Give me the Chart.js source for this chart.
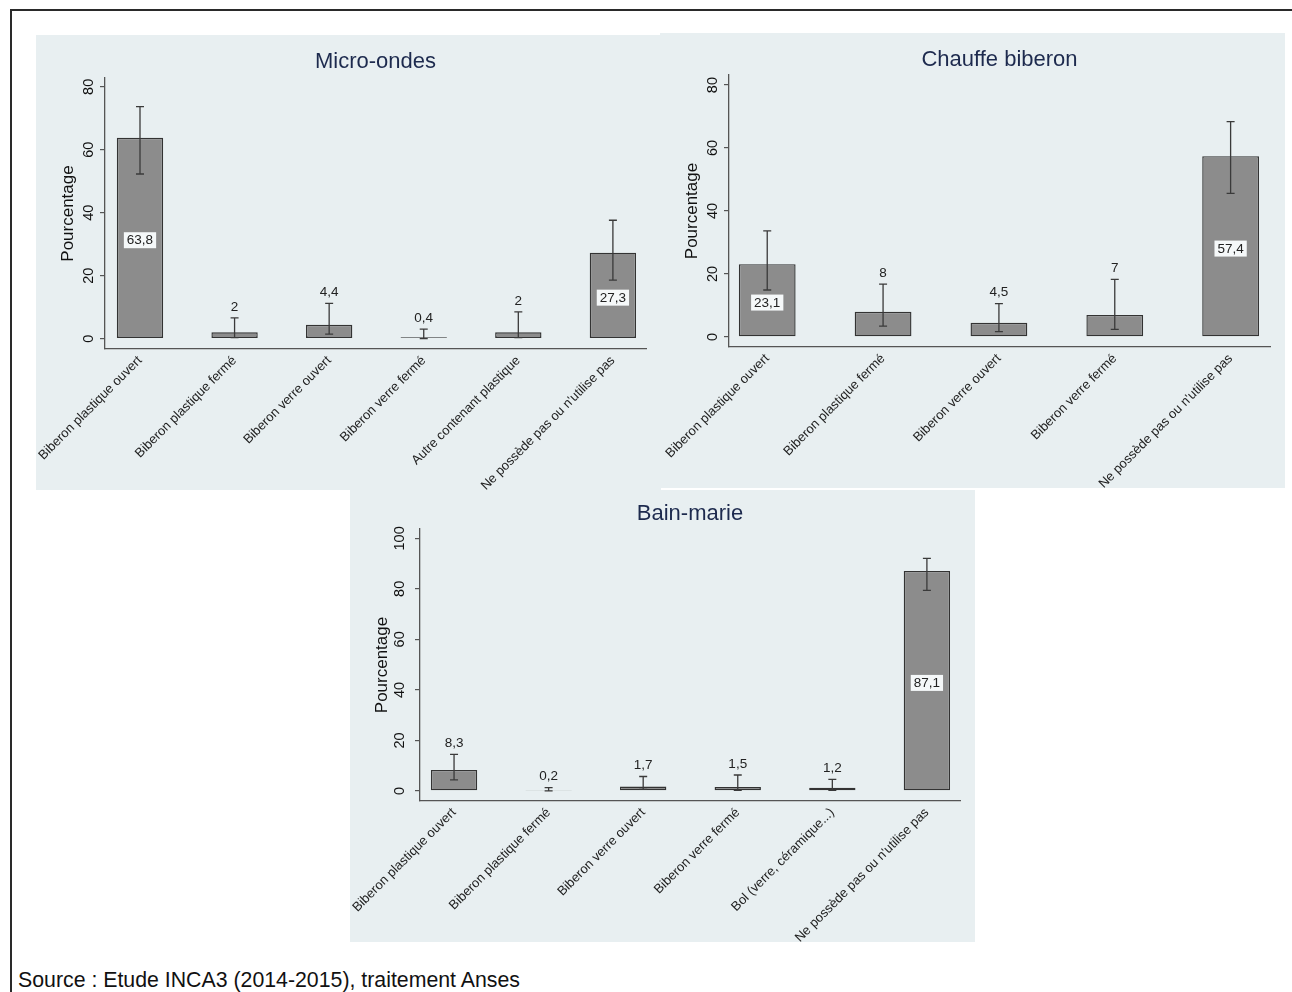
<!DOCTYPE html>
<html><head><meta charset="utf-8">
<script src="https://cdn.jsdelivr.net/npm/chart.js@4"></script>
<style>
body{margin:0;background:#fff;width:1292px;height:992px;overflow:hidden;position:relative;font-family:'Liberation Sans',Arial,sans-serif}
.frame{position:absolute;left:10px;top:9px;width:1400px;height:1100px;border-left:2px solid #2a2a2a;border-top:2px solid #2a2a2a}
.panel{position:absolute;background:#e8eff1}
.panel canvas{display:block}
#p1{left:36px;top:35px;width:625px;height:455px}
#p2{left:660px;top:33px;width:625px;height:455px}
#p3{left:350px;top:490px;width:625px;height:452px}
.source{position:absolute;left:18px;top:968px;font-size:21.3px;color:#111;white-space:nowrap}
</style></head>
<body>
<div class="frame"></div>
<div class="panel" id="p1"><canvas id="c1"></canvas></div>
<div class="panel" id="p2"><canvas id="c2"></canvas></div>
<div class="panel" id="p3"><canvas id="c3"></canvas></div>
<div class="source">Source : Etude INCA3 (2014-2015), traitement Anses</div>
<script>
// ---- Data ----
const microLabels = ["Biberon plastique ouvert","Biberon plastique fermé","Biberon verre ouvert","Biberon verre fermé","Autre contenant plastique","Ne possède pas ou n'utilise pas"];
const microValues = [63.8, 2, 4.4, 0.4, 2, 27.3];
const microLow    = [52.3, 0.3, 1.4, 0.0, 0.3, 18.6];
const microHigh   = [73.7, 6.6, 11.2, 3.0, 8.5, 37.6];

const chauffeLabels = ["Biberon plastique ouvert","Biberon plastique fermé","Biberon verre ouvert","Biberon verre fermé","Ne possède pas ou n'utilise pas"];
const chauffeValues = [23.1, 8, 4.5, 7, 57.4];
const chauffeLow    = [14.9, 3.4, 1.7, 2.4, 45.6];
const chauffeHigh   = [33.7, 16.8, 10.6, 18.3, 68.4];

const bainLabels = ["Biberon plastique ouvert","Biberon plastique fermé","Biberon verre ouvert","Biberon verre fermé","Bol (verre, céramique...)","Ne possède pas ou n'utilise pas"];
const bainValues = [8.3, 0.2, 1.7, 1.5, 1.2, 87.1];
const bainLow    = [4.4, 0.0, 0.6, 0.2, 0.2, 79.4];
const bainHigh   = [14.5, 1.3, 5.7, 6.3, 4.6, 92.1];

const yTicks80  = [0, 20, 40, 60, 80];
const yTicks100 = [0, 20, 40, 60, 80, 100];
const yTitle = "Pourcentage";

Chart.defaults.font.family = "'Liberation Sans', Arial, sans-serif";

const fmt = v => String(v).replace('.', ',');

const errPlugin = {
  id: 'errbars',
  afterDatasetsDraw(chart) {
    const ds = chart.data.datasets[0];
    const xs = chart.scales.x, ys = chart.scales.y, ctx = chart.ctx;
    ctx.save();
    ctx.strokeStyle = '#3a3a3a';
    ctx.lineWidth = 1.3;
    ds.errLow.forEach((lo, i) => {
      const x = xs.getPixelForValue(i);
      const y1 = ys.getPixelForValue(lo), y2 = ys.getPixelForValue(ds.errHigh[i]);
      ctx.beginPath();
      ctx.moveTo(x, y1); ctx.lineTo(x, y2);
      ctx.moveTo(x - 4, y1); ctx.lineTo(x + 4, y1);
      ctx.moveTo(x - 4, y2); ctx.lineTo(x + 4, y2);
      ctx.stroke();
    });
    ctx.restore();
  }
};

const labelPlugin = {
  id: 'vlabels',
  afterDatasetsDraw(chart) {
    const ds = chart.data.datasets[0];
    const xs = chart.scales.x, ys = chart.scales.y, ctx = chart.ctx;
    ctx.save();
    ctx.font = "13.5px 'Liberation Sans', Arial, sans-serif";
    ctx.textAlign = 'center';
    ctx.textBaseline = 'middle';
    ds.data.forEach((p, i) => {
      const txt = fmt(p.y);
      const x = xs.getPixelForValue(i);
      if (p.y > 20) {
        const y = ys.getPixelForValue(p.y / 2) + 2;
        const w = ctx.measureText(txt).width + 6;
        ctx.fillStyle = '#f5f8f9';
        ctx.fillRect(x - w / 2, y - 8, w, 16);
        ctx.fillStyle = '#222';
        ctx.fillText(txt, x, y + 0.5);
      } else {
        const y = ys.getPixelForValue(ds.errHigh[i]) - 11;
        ctx.fillStyle = '#222';
        ctx.fillText(txt, x, y);
      }
    });
    ctx.restore();
  }
};

function makeChart(id, cfg) {
  const n = cfg.labels.length;
  return new Chart(document.getElementById(id), {
    type: 'bar',
    data: {
      datasets: [{
        data: cfg.values.map((v, i) => ({x: i, y: v})),
        backgroundColor: '#8c8c8c',
        borderColor: '#333',
        borderWidth: 1.4,
        borderSkipped: false,
        barPercentage: 0.49,
        categoryPercentage: 1,
        errLow: cfg.low,
        errHigh: cfg.high
      }]
    },
    options: {
      responsive: true, maintainAspectRatio: false, animation: false,
      layout: {padding: {left: 0, right: 15, top: 0, bottom: 0}},
      plugins: {
        legend: {display: false},
        tooltip: {enabled: false},
        title: {display: true, fullSize: false, text: cfg.title, color: '#1d2a4e',
          font: {size: 22, weight: 'normal'}, padding: {top: cfg.tTop, bottom: cfg.tBot}}
      },
      scales: {
        x: {
          type: 'linear', offset: false, min: cfg.xMin, max: n - 1 + cfg.xMaxPad,
          grid: {display: false, offset: false},
          border: {display: true, color: '#555', width: 1.3},
          afterBuildTicks: s => { s.ticks = cfg.labels.map((_, i) => ({value: i})); },
          ticks: {autoSkip: false, minRotation: 45, maxRotation: 45, color: '#222',
            font: {size: 13}, padding: -4, callback: v => cfg.labels[v]},
          afterFit: s => { s.height = cfg.xH; s.paddingLeft = 0; s.paddingRight = 0; }
        },
        y: {
          min: cfg.yMin, max: cfg.yMax,
          afterBuildTicks: s => { s.ticks = cfg.ticks.map(v => ({value: v})); },
          grid: {drawOnChartArea: false, drawTicks: true, tickLength: 5, color: '#555', lineWidth: 1.2},
          border: {color: '#555', width: 1.3},
          ticks: {minRotation: 90, maxRotation: 90, crossAlign: 'center', padding: 3, color: '#111', font: {size: 14.5}},
          title: {display: true, text: yTitle, color: '#111', font: {size: 17}, padding: {top: cfg.ytPad, bottom: 0}},
          afterFit: s => { s.width = cfg.yW; s.paddingTop = 0; s.paddingBottom = 0; }
        }
      }
    },
    plugins: [errPlugin, labelPlugin]
  });
}

makeChart('c1', {title: 'Micro-ondes', labels: microLabels, values: microValues, low: microLow, high: microHigh,
  ticks: yTicks80, yMin: -3.3, yMax: 82.8, xMin: -0.37, xMaxPad: 0.35,
  yW: 69, xH: 141, tTop: 13.8, tBot: 2.8, ytPad: 21.8});
makeChart('c2', {title: 'Chauffe biberon', labels: chauffeLabels, values: chauffeValues, low: chauffeLow, high: chauffeHigh,
  ticks: yTicks80, yMin: -3.2, yMax: 83.2, xMin: -0.33, xMaxPad: 0.34,
  yW: 69, xH: 141, tTop: 13.8, tBot: 1.8, ytPad: 21.8});
makeChart('c3', {title: 'Bain-marie', labels: bainLabels, values: bainValues, low: bainLow, high: bainHigh,
  ticks: yTicks100, yMin: -4.0, yMax: 103.7, xMin: -0.36, xMaxPad: 0.35,
  yW: 70, xH: 141, tTop: 10.8, tBot: 1.8, ytPad: 21.8});
</script>
</body></html>
